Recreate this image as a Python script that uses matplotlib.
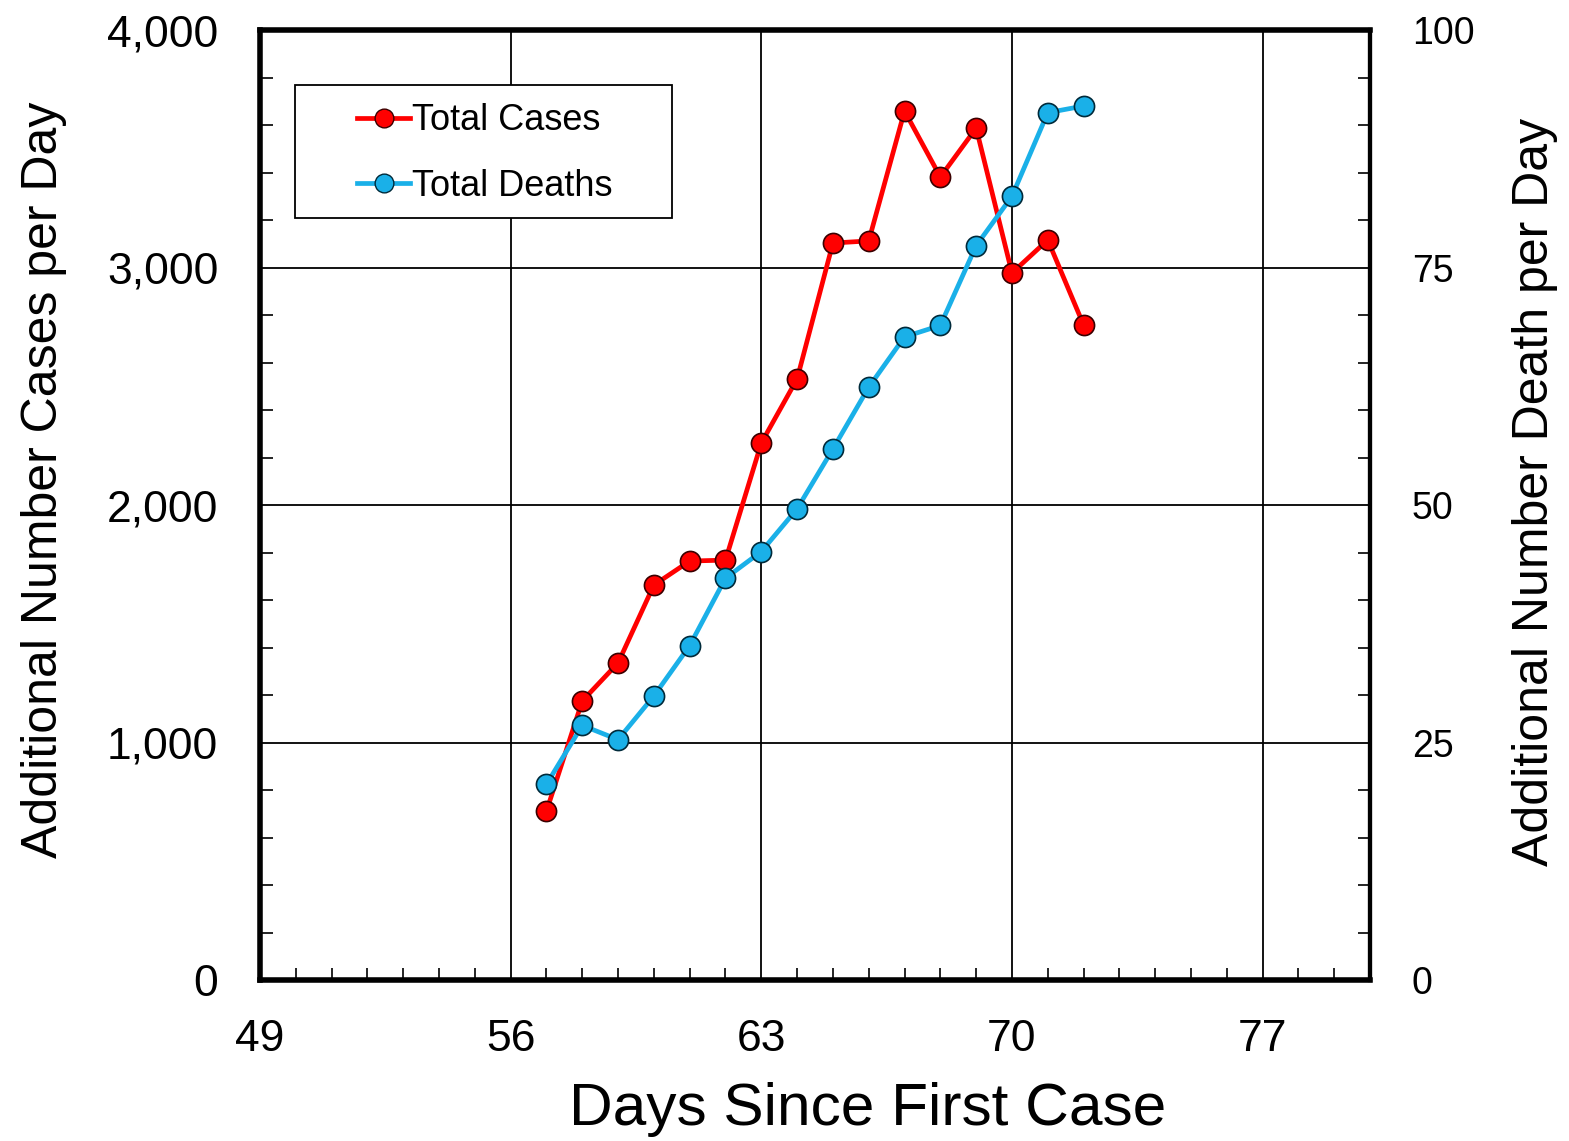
import matplotlib
matplotlib.use("Agg")
import matplotlib.pyplot as plt
from matplotlib.ticker import MultipleLocator, FuncFormatter
from matplotlib.lines import Line2D
from matplotlib.patches import Rectangle

plt.rcParams['font.family'] = ['Liberation Sans', 'DejaVu Sans']

# Daily figures
days = [57, 58, 59, 60, 61, 62, 63, 64, 65, 66, 67, 68, 69, 70, 71, 72]
cases = [711, 1175, 1335, 1663, 1764, 1768, 2261, 2531, 3103, 3112,
         3659, 3381, 3587, 2977, 3116, 2758]
deaths = [20.6, 26.8, 25.3, 29.9, 35.2, 42.3, 45.1, 49.6, 55.9, 62.4,
          67.7, 68.9, 77.3, 82.5, 91.3, 92.0]

x_ticks = [49, 56, 63, 70, 77]
red = '#ff0000'
blue = '#1ab0e8'
line_w = 3.4
mk_size = 14.5

fig = plt.figure(figsize=(15.69, 11.41), dpi=100)
ax = fig.add_axes([0.1657, 0.1411, 0.7075, 0.8326])
ax2 = ax.twinx()

ax.set_xlim(49, 80)
ax.set_ylim(0, 4000)
ax2.set_ylim(0, 100)

ax.set_xticks(x_ticks)
ax.xaxis.set_minor_locator(MultipleLocator(1))
ax.yaxis.set_major_locator(MultipleLocator(1000))
ax.yaxis.set_minor_locator(MultipleLocator(200))
ax.yaxis.set_major_formatter(FuncFormatter(lambda v, p: f"{int(v):,}"))
ax2.yaxis.set_major_locator(MultipleLocator(25))
ax2.yaxis.set_minor_locator(MultipleLocator(5))

ax.grid(True, which='major', color='black', linewidth=1.3)
ax.set_axisbelow(True)

ax.tick_params(axis='both', which='major', direction='in', length=0,
               labelsize=32)
ax.tick_params(axis='y', which='major', pad=30)
ax.tick_params(axis='x', which='major', pad=28)
ax.tick_params(axis='both', which='minor', direction='in', length=9,
               width=1.2, color='black')
ax2.tick_params(axis='y', which='major', direction='in', length=0,
                labelsize=27, pad=30)
ax2.tick_params(axis='y', which='minor', direction='in', length=9,
                width=1.2)

for s in ['left', 'bottom', 'top']:
    ax.spines[s].set_linewidth(4)
ax.spines['right'].set_linewidth(3)
for s in ax2.spines.values():
    s.set_visible(False)
ax2.spines['right'].set_visible(True)
ax2.spines['right'].set_linewidth(3)

ax.plot(days, cases, color=red, linewidth=line_w, marker='o',
        markersize=mk_size, markerfacecolor=red, markeredgecolor='#3a0000',
        markeredgewidth=1.2, zorder=3)
ax2.plot(days, deaths, color=blue, linewidth=line_w, marker='o',
         markersize=mk_size, markerfacecolor=blue, markeredgecolor='#002a3a',
         markeredgewidth=1.2, zorder=3)

ax.set_xlabel('Days Since First Case', fontsize=43.5, labelpad=16)
ax.xaxis.label.set_x(0.547)
ax.set_ylabel('Additional Number Cases per Day', fontsize=36, labelpad=29)
ax.yaxis.label.set_y(0.526)
ax2.set_ylabel('Additional Number Death per Day', fontsize=36, labelpad=27)
ax2.yaxis.label.set_y(0.514)

# Legend box drawn as a plain rectangle, entries placed inside it
ax2.add_patch(Rectangle((0.0315, 0.802), 0.3396, 0.140,
                        transform=ax2.transAxes, facecolor='white',
                        edgecolor='black', linewidth=1.3, zorder=4))
handles = [
    Line2D([], [], color=red, linewidth=line_w, marker='o',
           markersize=mk_size - 1, markerfacecolor=red,
           markeredgecolor='#3a0000'),
    Line2D([], [], color=blue, linewidth=line_w, marker='o',
           markersize=mk_size - 1, markerfacecolor=blue,
           markeredgecolor='#002a3a'),
]
leg = ax2.legend(handles, ['Total Cases', 'Total Deaths'],
                 loc='center left', bbox_to_anchor=(0.0876, 0.870),
                 fontsize=26, frameon=False,
                 handlelength=1.47, handletextpad=0.05,
                 labelspacing=0.85, borderpad=0, borderaxespad=0)
leg.set_zorder(5)

fig.savefig('out.png', dpi=100, facecolor='white')
